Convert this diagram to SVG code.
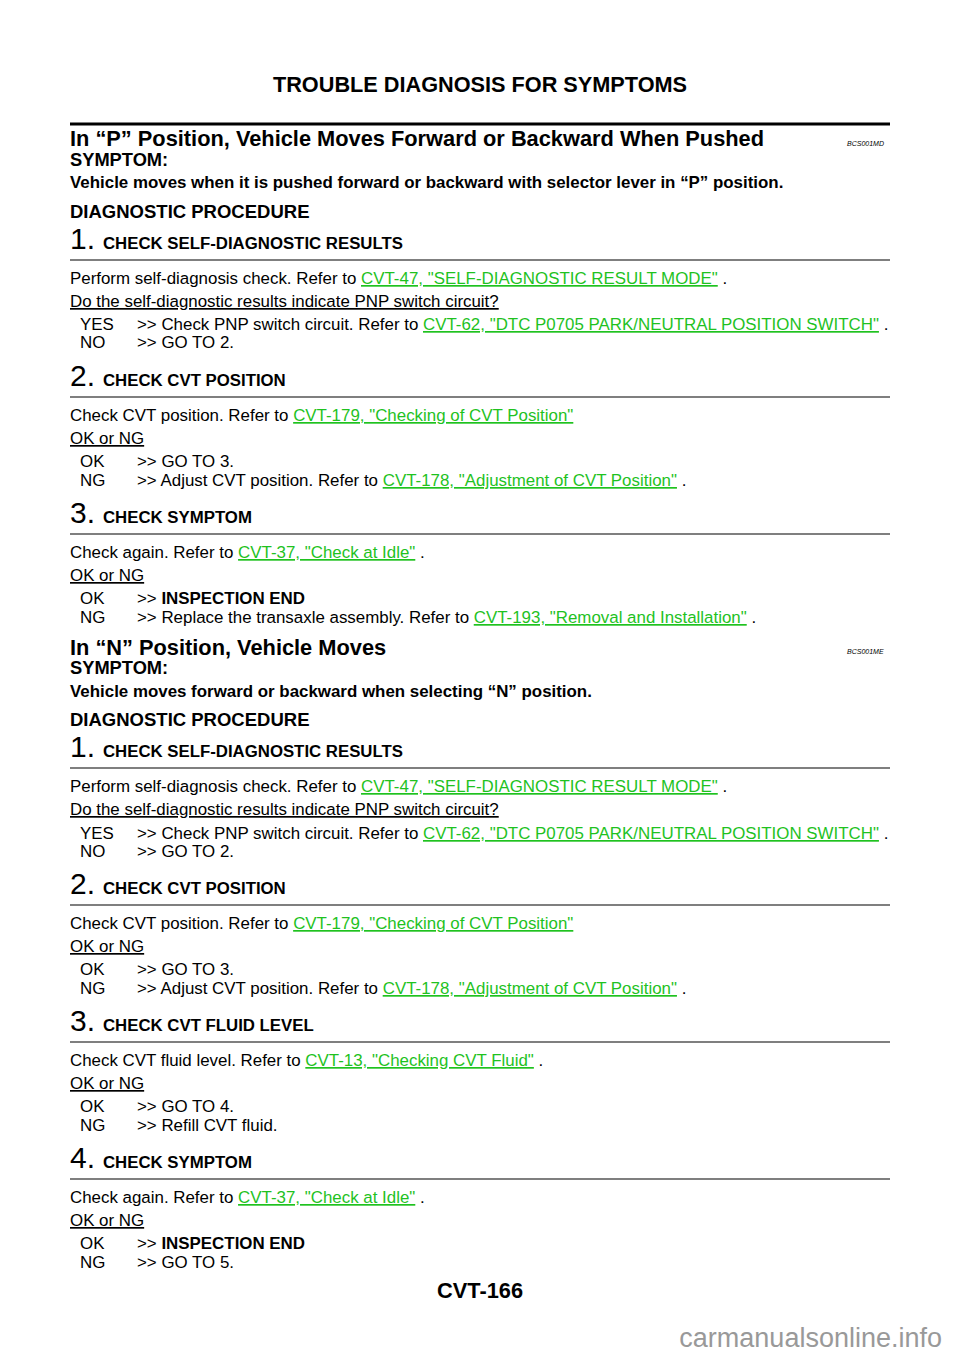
<svg xmlns="http://www.w3.org/2000/svg" width="960" height="1358" viewBox="0 0 960 1358">
<style>
text{font-family:"Liberation Sans",Arial,sans-serif;fill:#000}
.b{font-weight:bold}
.h1{font-size:21.8px;font-weight:bold}
.sy{font-size:18.3px;font-weight:bold}
.sd{font-size:16.9px;font-weight:bold}
.dp{font-size:18.5px;font-weight:bold}
.n{font-size:30px}
.st{font-size:16.8px;font-weight:bold}
.t{font-size:16.9px}
.l{fill:#1fc21f;text-decoration:underline}
.u{text-decoration:underline}
.code{font-size:7px;font-style:italic}
line{stroke:#000}
</style>
<rect width="960" height="1358" fill="#fff"/>
<text x="480" y="92" text-anchor="middle" class="b" font-size="21.7">TROUBLE DIAGNOSIS FOR SYMPTOMS</text>
<line x1="70" y1="124" x2="890" y2="124" stroke-width="3"/>
<g id="sec1">
<text x="70" y="146" class="h1">In “P” Position, Vehicle Moves Forward or Backward When Pushed</text>
<text x="847" y="146" class="code">BCS001MD</text>
<text x="70" y="166" class="sy">SYMPTOM:</text>
<text x="70" y="188" class="sd">Vehicle moves when it is pushed forward or backward with selector lever in “P” position.</text>
<text x="70" y="218" class="dp">DIAGNOSTIC PROCEDURE</text>
<text x="70" y="249" class="n">1.</text><text x="103" y="249" class="st">CHECK SELF-DIAGNOSTIC RESULTS</text>
<line x1="70" y1="260" x2="890" y2="260" stroke-width="1.2"/>
<text x="70" y="284" class="t">Perform self-diagnosis check. Refer to <tspan class="l">CVT-47, "SELF-DIAGNOSTIC RESULT MODE"</tspan> .</text>
<text x="70" y="307" class="t u">Do the self-diagnostic results indicate PNP switch circuit?</text>
<text x="80" y="330" class="t">YES</text><text x="137" y="330" class="t">&gt;&gt; Check PNP switch circuit. Refer to <tspan class="l">CVT-62, "DTC P0705 PARK/NEUTRAL POSITION SWITCH"</tspan> .</text>
<text x="80" y="348" class="t">NO</text><text x="137" y="348" class="t">&gt;&gt; GO TO 2.</text>
<text x="70" y="386" class="n">2.</text><text x="103" y="386" class="st">CHECK CVT POSITION</text>
<line x1="70" y1="397" x2="890" y2="397" stroke-width="1.2"/>
<text x="70" y="421" class="t">Check CVT position. Refer to <tspan class="l">CVT-179, "Checking of CVT Position"</tspan></text>
<text x="70" y="444" class="t u">OK or NG</text>
<text x="80" y="467" class="t">OK</text><text x="137" y="467" class="t">&gt;&gt; GO TO 3.</text>
<text x="80" y="486" class="t">NG</text><text x="137" y="486" class="t">&gt;&gt; Adjust CVT position. Refer to <tspan class="l">CVT-178, "Adjustment of CVT Position"</tspan> .</text>
<text x="70" y="523" class="n">3.</text><text x="103" y="523" class="st">CHECK SYMPTOM</text>
<line x1="70" y1="534" x2="890" y2="534" stroke-width="1.2"/>
<text x="70" y="558" class="t">Check again. Refer to <tspan class="l">CVT-37, "Check at Idle"</tspan> .</text>
<text x="70" y="581" class="t u">OK or NG</text>
<text x="80" y="604" class="t">OK</text><text x="137" y="604" class="t">&gt;&gt; <tspan class="b">INSPECTION END</tspan></text>
<text x="80" y="623" class="t">NG</text><text x="137" y="623" class="t">&gt;&gt; Replace the transaxle assembly. Refer to <tspan class="l">CVT-193, "Removal and Installation"</tspan> .</text>
</g>
<g id="sec2">
<text x="70" y="655" class="h1">In “N” Position, Vehicle Moves</text>
<text x="847" y="654" class="code">BCS001ME</text>
<text x="70" y="674" class="sy">SYMPTOM:</text>
<text x="70" y="697" class="sd">Vehicle moves forward or backward when selecting “N” position.</text>
<text x="70" y="726" class="dp">DIAGNOSTIC PROCEDURE</text>
<text x="70" y="757" class="n">1.</text><text x="103" y="757" class="st">CHECK SELF-DIAGNOSTIC RESULTS</text>
<line x1="70" y1="768" x2="890" y2="768" stroke-width="1.2"/>
<text x="70" y="792" class="t">Perform self-diagnosis check. Refer to <tspan class="l">CVT-47, "SELF-DIAGNOSTIC RESULT MODE"</tspan> .</text>
<text x="70" y="815" class="t u">Do the self-diagnostic results indicate PNP switch circuit?</text>
<text x="80" y="839" class="t">YES</text><text x="137" y="839" class="t">&gt;&gt; Check PNP switch circuit. Refer to <tspan class="l">CVT-62, "DTC P0705 PARK/NEUTRAL POSITION SWITCH"</tspan> .</text>
<text x="80" y="857" class="t">NO</text><text x="137" y="857" class="t">&gt;&gt; GO TO 2.</text>
<text x="70" y="894" class="n">2.</text><text x="103" y="894" class="st">CHECK CVT POSITION</text>
<line x1="70" y1="905" x2="890" y2="905" stroke-width="1.2"/>
<text x="70" y="929" class="t">Check CVT position. Refer to <tspan class="l">CVT-179, "Checking of CVT Position"</tspan></text>
<text x="70" y="952" class="t u">OK or NG</text>
<text x="80" y="975" class="t">OK</text><text x="137" y="975" class="t">&gt;&gt; GO TO 3.</text>
<text x="80" y="994" class="t">NG</text><text x="137" y="994" class="t">&gt;&gt; Adjust CVT position. Refer to <tspan class="l">CVT-178, "Adjustment of CVT Position"</tspan> .</text>
<text x="70" y="1031" class="n">3.</text><text x="103" y="1031" class="st">CHECK CVT FLUID LEVEL</text>
<line x1="70" y1="1042" x2="890" y2="1042" stroke-width="1.2"/>
<text x="70" y="1066" class="t">Check CVT fluid level. Refer to <tspan class="l">CVT-13, "Checking CVT Fluid"</tspan> .</text>
<text x="70" y="1089" class="t u">OK or NG</text>
<text x="80" y="1112" class="t">OK</text><text x="137" y="1112" class="t">&gt;&gt; GO TO 4.</text>
<text x="80" y="1131" class="t">NG</text><text x="137" y="1131" class="t">&gt;&gt; Refill CVT fluid.</text>
<text x="70" y="1168" class="n">4.</text><text x="103" y="1168" class="st">CHECK SYMPTOM</text>
<line x1="70" y1="1179" x2="890" y2="1179" stroke-width="1.2"/>
<text x="70" y="1203" class="t">Check again. Refer to <tspan class="l">CVT-37, "Check at Idle"</tspan> .</text>
<text x="70" y="1226" class="t u">OK or NG</text>
<text x="80" y="1249" class="t">OK</text><text x="137" y="1249" class="t">&gt;&gt; <tspan class="b">INSPECTION END</tspan></text>
<text x="80" y="1268" class="t">NG</text><text x="137" y="1268" class="t">&gt;&gt; GO TO 5.</text>
</g>
<text x="480" y="1298" text-anchor="middle" class="b" font-size="21.8">CVT-166</text>
<text x="942" y="1347" text-anchor="end" font-size="27" style="fill:#999">carmanualsonline.info</text>
</svg>
